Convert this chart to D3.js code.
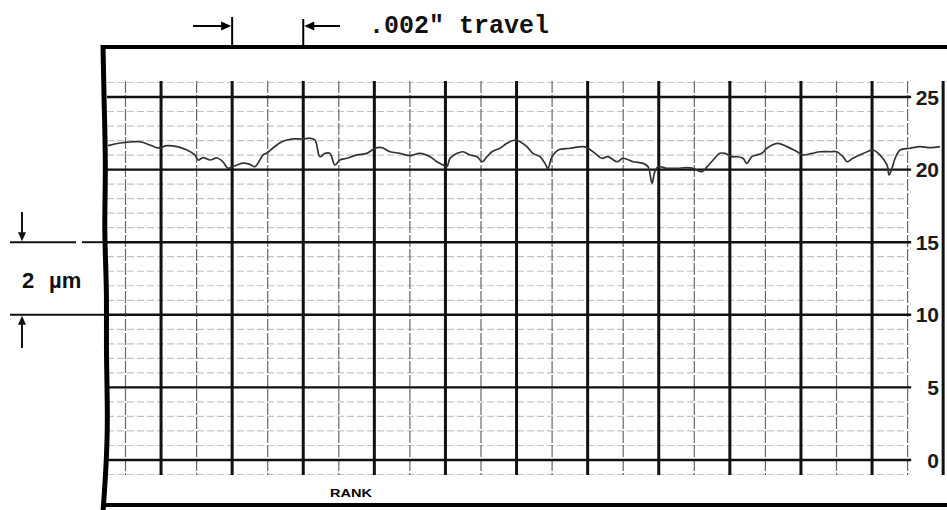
<!DOCTYPE html>
<meta charset="utf-8">
<style>
body { margin: 0; background: #fff; }
.major { stroke: #111; stroke-width: 2.4px; fill: none; }
.minor { stroke: #c4c4c4; stroke-width: 1.2px; stroke-dasharray: 7,3; fill: none; }
.vthick { stroke: #111; stroke-width: 3px; }
.vthin { stroke: #666; stroke-width: 1.2px; stroke-dasharray: 12,2; }
.trace { fill: none; stroke: #333; stroke-width: 1.7px; stroke-linejoin: round; }
.frame { stroke: #000; fill: none; }
.lbl { font: bold 21px "Liberation Sans", sans-serif; fill: #1a1a1a; }
</style>
<body>
<script src="https://cdn.jsdelivr.net/npm/d3@7"></script>
<script>

// profile trace, x in .001" of travel, y in chart divisions
var travel = [-0.49,-0.15,0.41,0.69,0.91,1.17,1.45,1.73,1.95,2.04,2.18,2.38,2.57,2.74,2.88,3.00,3.14,3.31,3.50,3.64,3.78,3.87,3.98,4.15,4.40,4.71,5.00,5.19,5.33,
  5.47,5.61,5.75,5.89,6.03,6.23,6.51,6.79,7.02,7.21,7.44,7.72,8.00,8.28,8.57,8.76,8.93,9.04,9.13,9.33,9.49,9.69,9.89,10.03,10.17,10.31,10.53,10.73,10.96,
  11.10,11.29,11.46,11.66,11.80,11.88,12.00,12.17,12.50,12.87,13.01,13.21,13.40,13.57,13.83,13.99,14.28,14.56,14.70,14.81,14.89,14.98,15.23,15.51,15.79,15.96,
  16.22,16.36,16.53,16.72,16.86,17.06,17.20,17.37,17.48,17.62,17.90,18.04,18.33,18.61,18.89,19.06,19.31,19.54,19.82,20.01,20.18,20.30,20.46,20.66,20.86,21.03,
  21.22,21.42,21.48,21.56,21.65,21.79,22.07,22.35,22.63,22.91];
var height_ = [21.65,21.83,21.92,21.69,21.49,21.65,21.58,21.35,21.01,20.66,20.82,20.66,20.80,20.54,20.09,20.20,20.32,20.45,20.36,20.20,20.66,21.01,21.14,21.49,21.92,22.11,22.11,22.16,22.04,
  20.89,21.12,21.12,20.32,20.66,20.78,21.01,21.12,21.47,21.51,21.23,21.12,20.96,21.12,20.89,20.54,20.32,20.20,20.78,21.12,21.23,21.01,20.89,20.54,20.89,21.23,21.47,21.81,22.04,
  21.92,21.58,21.12,20.89,20.43,20.09,20.89,21.35,21.47,21.58,21.47,21.12,20.78,20.89,20.54,20.78,20.54,20.43,20.20,19.06,19.86,20.20,20.09,20.09,20.13,20.09,
  19.86,20.20,20.66,21.12,21.12,20.89,20.89,20.78,20.43,20.89,21.12,21.47,21.81,21.58,21.23,21.01,21.12,21.23,21.23,21.23,20.89,20.54,20.78,21.01,21.23,21.35,
  21.01,20.32,19.63,20.09,20.78,21.35,21.47,21.58,21.51,21.58];

var yTicks = [0, 5, 10, 15, 20, 25];
var minorRows = d3.range(-1, 27);
var columns = d3.range(0, 24);   // .001" divisions, odd ones heavy

var width = 947, height = 510;

var x = d3.scaleLinear().domain([0, 22]).range([125.5, 907.6]);
var y = d3.scaleLinear().domain([0, 25]).range([460, 97]);

var svg = d3.select("body").append("svg")
    .attr("width", width)
    .attr("height", height);

svg.append("rect").attr("width", width).attr("height", height).attr("fill", "#fff");

var leftEdge = 107;

// faint division lines
svg.selectAll(".minor")
    .data(minorRows.filter(function(d) { return d % 5 != 0; }))
  .enter().append("line")
    .attr("class", "minor")
    .attr("x1", leftEdge).attr("x2", x(22))
    .attr("y1", function(d) { return y(d); })
    .attr("y2", function(d) { return y(d); });

// vertical chart lines
svg.selectAll(".vline")
    .data(columns)
  .enter().append("line")
    .attr("class", function(d) { return d % 2 ? "vthick" : "vthin"; })
    .attr("x1", function(d) { return x(d); })
    .attr("x2", function(d) { return x(d); })
    .attr("y1", y(26.1))
    .attr("y2", y(-1.03));

// heavy lines every 5 divisions
svg.selectAll(".major")
    .data(yTicks)
  .enter().append("line")
    .attr("class", "major")
    .attr("x1", leftEdge).attr("x2", x(22.1))
    .attr("y1", function(d) { return y(d); })
    .attr("y2", function(d) { return y(d); });

svg.selectAll(".lbl")
    .data(yTicks)
  .enter().append("text")
    .attr("class", "lbl")
    .attr("x", 939)
    .attr("y", function(d) { return y(d); })
    .attr("dy", "0.36em")
    .attr("text-anchor", "end")
    .text(function(d) { return d; });

// the trace
var line = d3.line()
    .x(function(d) { return x(d[0]); })
    .y(function(d) { return y(d[1]); })
    .curve(d3.curveCatmullRom);

svg.append("path")
    .datum(d3.zip(travel, height_))
    .attr("class", "trace")
    .attr("d", line);

// frame
svg.append("line").attr("class", "frame").attr("stroke-width", 4)
    .attr("x1", 102).attr("x2", 947).attr("y1", 47).attr("y2", 47);
svg.append("line").attr("class", "frame").attr("stroke-width", 4)
    .attr("x1", 102).attr("x2", 947).attr("y1", 505).attr("y2", 505);
svg.append("path").attr("class", "frame").attr("stroke-width", 5)
    .attr("d", d3.line().curve(d3.curveBasis)([[103,45],[104,100],[106,170],[104,230],[107,290],[106,350],[108,420],[106,470],[103,512]]));

svg.append("text")
    .attr("x", 351).attr("y", 497)
    .attr("text-anchor", "middle")
    .attr("textLength", 42).attr("lengthAdjust", "spacingAndGlyphs")
    .style("font", "bold 11px 'Liberation Sans', sans-serif")
    .text("RANK");

// travel marker at top
function arrowHead(px, py, dir) {
  svg.append("path")
      .attr("d", "M" + px + "," + py + "l" + (-10 * dir) + ",-4.5v9z")
      .attr("fill", "#000");
}
var ay = 26;
svg.append("line").attr("stroke", "#000").attr("stroke-width", 2)
    .attr("x1", x(3)).attr("x2", x(3)).attr("y1", 17).attr("y2", 47);
svg.append("line").attr("stroke", "#000").attr("stroke-width", 2)
    .attr("x1", x(5)).attr("x2", x(5)).attr("y1", 19).attr("y2", 47);
svg.append("line").attr("stroke", "#000").attr("stroke-width", 2)
    .attr("x1", 193).attr("x2", x(3) - 6).attr("y1", ay).attr("y2", ay);
arrowHead(x(3) - 1, ay, 1);
svg.append("line").attr("stroke", "#000").attr("stroke-width", 2)
    .attr("x1", x(5) + 6).attr("x2", 340).attr("y1", ay).attr("y2", ay);
arrowHead(x(5) + 1, ay, -1);

svg.append("text")
    .attr("x", 369).attr("y", 33)
    .style("font", "bold 25px 'Liberation Mono', monospace")
    .attr("fill", "#111")
    .text(".002\" travel");

// vertical scale marker on the left
svg.append("line").attr("stroke", "#111").attr("stroke-width", 2)
    .attr("x1", 10).attr("x2", 76).attr("y1", y(15)).attr("y2", y(15));
svg.append("line").attr("stroke", "#111").attr("stroke-width", 2)
    .attr("x1", 82).attr("x2", 104).attr("y1", y(15)).attr("y2", y(15));
svg.append("line").attr("stroke", "#111").attr("stroke-width", 2)
    .attr("x1", 10).attr("x2", 104).attr("y1", y(10)).attr("y2", y(10));
svg.append("line").attr("stroke", "#111").attr("stroke-width", 2)
    .attr("x1", 22).attr("x2", 22).attr("y1", 212).attr("y2", y(15) - 5);
svg.append("path").attr("fill", "#111")
    .attr("d", "M22," + (y(15) - 1) + "l-4,-9h8z");
svg.append("line").attr("stroke", "#111").attr("stroke-width", 2)
    .attr("x1", 22).attr("x2", 22).attr("y1", y(10) + 5).attr("y2", 348);
svg.append("path").attr("fill", "#111")
    .attr("d", "M22," + (y(10) + 1) + "l-4,9h8z");

var um = svg.append("text")
    .attr("x", 22).attr("y", 288)
    .style("font", "bold 22px 'Liberation Sans', sans-serif")
    .attr("fill", "#111");
um.append("tspan").text("2");
um.append("tspan").attr("x", 49).text("µm");

</script>
